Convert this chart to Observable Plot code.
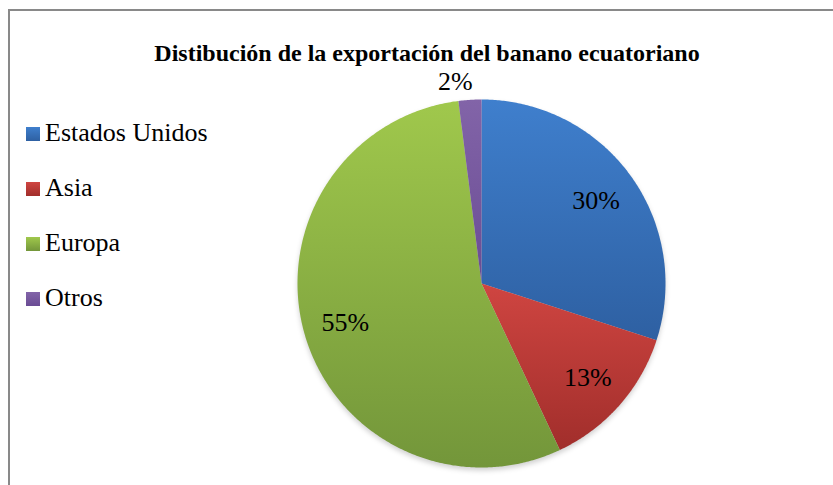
<!DOCTYPE html>
<html>
<head>
<meta charset="utf-8">
<script src="https://cdn.jsdelivr.net/npm/d3@7"></script>
<script src="https://cdn.jsdelivr.net/npm/@observablehq/plot@0.6"></script>
<style>
  html, body { margin: 0; padding: 0; background: #fff; width: 833px; height: 485px; overflow: hidden; }
  #wrap { position: relative; width: 833px; height: 485px; }
  #border { position: absolute; left: 8px; top: 9px; width: 900px; height: 600px; border: 2px solid #898989; box-sizing: border-box; }
  #chart { position: absolute; left: 0; top: 0; }
  #legend { position: absolute; left: 26px; top: 118px; font-family: 'Liberation Serif'; font-size: 26px; color: #000; }
  .item { display: flex; align-items: center; height: 30px; margin-bottom: 25px; }
  .sw { width: 14px; height: 14px; margin-right: 5px; margin-top: 2px; }
  #chart text { font-family: 'Liberation Serif'; }
</style>
</head>
<body>
<div id="wrap">
  <div id="border"></div>
  <div id="chart"></div>
  <div id="legend"></div>
</div>
<script>
const title = "Distibución de la exportación del banano ecuatoriano";
const categories = ["Estados Unidos", "Asia", "Europa", "Otros"];
const shares = [30, 13, 55, 2];
const labels = ["30%", "13%", "55%", "2%"];
const colorsTop = ["#3f7fcd", "#cf4541", "#a0c84c", "#8264a8"];
const colorsBottom = ["#2e60a2", "#a12e2b", "#73963a", "#6a4c94"];

const pie = d3.pie().sort(null).value(d => d)(shares);

// slice polygons in unit-circle data space (angle clockwise from top)
const slices = pie.map((p, i) => {
  const pts = [{x: 0, y: 0}];
  const n = Math.max(4, Math.ceil((p.endAngle - p.startAngle) / (Math.PI / 360)));
  for (let k = 0; k <= n; k++) {
    const a = p.startAngle + (p.endAngle - p.startAngle) * k / n;
    pts.push({x: Math.sin(a), y: Math.cos(a)});
  }
  return pts;
});

const labelData = pie.map((p, i) => {
  const mid = (p.startAngle + p.endAngle) / 2;
  const outside = shares[i] < 5;
  const r = outside ? 1.1 : 0.77;
  return {
    x: Math.sin(mid) * r,
    y: Math.cos(mid) * r,
    text: labels[i],
    anchor: outside ? (Math.sin(mid) < 0 ? "end" : "start") : "middle",
    dx: outside ? 4 : 0
  };
});

const allPts = slices.flat().filter(d => !(d.x === 0 && d.y === 0));
const serif = "'Liberation Serif'";

const marks = [
  Plot.line(allPts, {x: "x", y: "y", fill: "#000", fillOpacity: 0.18, stroke: "none", curve: "linear-closed", dy: 3, className: "shadow"}),
  ...slices.map((pts, i) => Plot.line(pts, {x: "x", y: "y", fill: `url(#grad${i})`, stroke: "none", curve: "linear-closed"})),
  ...labelData.map(d => Plot.text([d], {x: "x", y: "y", text: "text", textAnchor: d.anchor, dx: d.dx, fontSize: 26, fontFamily: serif, fill: "#000"})),
  Plot.text([title], {frameAnchor: "top", dx: 10, dy: 43, text: d => d, fontSize: 24, fontWeight: "bold", fontFamily: serif, fill: "#000"})
];

const svg = Plot.plot({
  width: 833,
  height: 485,
  margin: 0,
  x: {domain: [-1, 1], range: [297, 665], axis: null},
  y: {domain: [-1, 1], range: [467, 99], axis: null},
  style: {background: "transparent", overflow: "visible", fontFamily: serif},
  marks
});

const ns = "http://www.w3.org/2000/svg";
const defs = document.createElementNS(ns, "defs");
colorsTop.forEach((c, i) => {
  const g = document.createElementNS(ns, "linearGradient");
  g.setAttribute("id", `grad${i}`);
  g.setAttribute("x1", "0"); g.setAttribute("y1", "0");
  g.setAttribute("x2", "0"); g.setAttribute("y2", "1");
  [[0, c], [1, colorsBottom[i]]].forEach(([o, col]) => {
    const s = document.createElementNS(ns, "stop");
    s.setAttribute("offset", o);
    s.setAttribute("stop-color", col);
    g.appendChild(s);
  });
  defs.appendChild(g);
});
const filt = document.createElementNS(ns, "filter");
filt.setAttribute("id", "blur");
filt.innerHTML = '<feGaussianBlur stdDeviation="2.5"/>';
defs.appendChild(filt);
svg.insertBefore(defs, svg.firstChild);
svg.querySelectorAll(".shadow path, path.shadow, g.shadow path").forEach(p => p.setAttribute("filter", "url(#blur)"));
document.getElementById("chart").appendChild(svg);

const legend = document.getElementById("legend");
categories.forEach((c, i) => {
  const item = document.createElement("div");
  item.className = "item";
  const sw = document.createElement("div");
  sw.className = "sw";
  sw.style.background = `linear-gradient(${colorsTop[i]}, ${colorsBottom[i]})`;
  const t = document.createElement("span");
  t.textContent = c;
  item.appendChild(sw);
  item.appendChild(t);
  legend.appendChild(item);
});
</script>
</body>
</html>
